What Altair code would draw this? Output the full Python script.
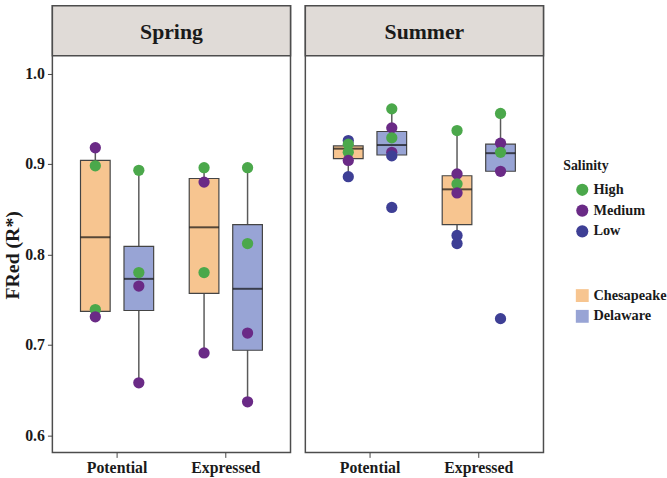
import altair as alt
import pandas as pd

# Categories
seasons = ["Spring", "Summer"]
periods = ["Potential", "Expressed"]
regions = ["Chesapeake", "Delaware"]
salinity_levels = ["High", "Medium", "Low"]

# Box summaries, one per season / period / region
box_season = ["Spring"] * 4 + ["Summer"] * 4
box_period = ["Potential", "Potential", "Expressed", "Expressed"] * 2
box_region = ["Chesapeake", "Delaware"] * 4
whisker_low = [0.731, 0.658, 0.691, 0.637, 0.886, 0.909, 0.812, 0.892]
box_q1 = [0.737, 0.738, 0.757, 0.694, 0.906, 0.910, 0.833, 0.892]
box_median = [0.819, 0.773, 0.830, 0.762, 0.917, 0.921, 0.872, 0.912]
box_q3 = [0.904, 0.809, 0.884, 0.833, 0.920, 0.936, 0.887, 0.922]
whisker_high = [0.918, 0.893, 0.896, 0.896, 0.926, 0.961, 0.937, 0.956]

# Individual site observations
pt_season = (["Spring"] * 16) + (["Summer"] * 22)
pt_period = (["Potential"] * 8 + ["Expressed"] * 8
             + ["Potential"] * 11 + ["Expressed"] * 11)
pt_region = (["Chesapeake"] * 4 + ["Delaware"] * 4
             + ["Chesapeake"] * 4 + ["Delaware"] * 4
             + ["Chesapeake"] * 5 + ["Delaware"] * 6
             + ["Chesapeake"] * 6 + ["Delaware"] * 5)
pt_salinity = (["Medium", "High", "High", "Medium"]
               + ["High", "High", "Medium", "Medium"]
               + ["High", "Medium", "High", "Medium"]
               + ["High", "High", "Medium", "Medium"]
               + ["Low", "High", "High", "Medium", "Low"]
               + ["High", "Medium", "High", "Medium", "Low", "Low"]
               + ["High", "Medium", "High", "Medium", "Low", "Low"]
               + ["High", "Medium", "High", "Medium", "Low"])
pt_value = ([0.918, 0.898, 0.739, 0.731]
            + [0.893, 0.780, 0.765, 0.658]
            + [0.896, 0.880, 0.780, 0.691]
            + [0.896, 0.812, 0.713, 0.637]
            + [0.926, 0.922, 0.913, 0.904, 0.886]
            + [0.961, 0.940, 0.929, 0.913, 0.909, 0.852]
            + [0.937, 0.889, 0.878, 0.868, 0.821, 0.812]
            + [0.956, 0.923, 0.913, 0.892, 0.729])

region_colors = ["#F7C590", "#98A4D5"]
salinity_colors = ["#4BA84B", "#6A2A86", "#3E3F95"]
y_ticks = [0.6, 0.7, 0.8, 0.9, 1.0]

boxes = pd.DataFrame({
    "Season": box_season, "Period": box_period, "Region": box_region,
    "lo": whisker_low, "q1": box_q1, "median": box_median,
    "q3": box_q3, "hi": whisker_high,
})
points = pd.DataFrame({
    "Season": pt_season, "Period": pt_period, "Region": pt_region,
    "Salinity": pt_salinity, "FRed": pt_value,
})
strips = pd.DataFrame({"Season": seasons})

FONT = "Liberation Serif"
PANEL_W = 241
PANEL_H = 452
STRIP_H = 50.5
LEGEND_X = 517

x_scale = alt.Scale(domain=periods, paddingInner=0.2, paddingOuter=0.195)
off_scale = alt.Scale(domain=regions, paddingInner=0.318, paddingOuter=0.159)
y_scale = alt.Scale(domain=[0.5810, 1.0750], nice=False, zero=False)


def panel(season, show_y):
    if show_y:
        y_axis = alt.Axis(values=y_ticks, format=".1f", title="FRed (R*)",
                          grid=False, domain=False, tickSize=5,
                          tickColor="#444", labelPadding=3,
                          titleY=252, titlePadding=2)
    else:
        y_axis = None
    x_axis = alt.Axis(title=None, domain=False, grid=False, labelAngle=0,
                      tickSize=5, tickColor="#444", labelPadding=2)

    x_enc = alt.X("Period:N", scale=x_scale, axis=x_axis, sort=periods)
    off_enc = alt.XOffset("Region:N", scale=off_scale, sort=regions)

    box_base = alt.Chart(boxes).transform_filter(alt.datum.Season == season)

    whisker = box_base.mark_rule(color="#5a5a5a", strokeWidth=1.5).encode(
        x=x_enc, xOffset=off_enc,
        y=alt.Y("lo:Q", scale=y_scale, axis=y_axis),
        y2="hi:Q",
    )
    box = box_base.mark_bar(stroke="#444444", strokeWidth=1.2).encode(
        x=x_enc, xOffset=off_enc,
        y=alt.Y("q1:Q", scale=y_scale),
        y2="q3:Q",
        fill=alt.Fill("Region:N",
                      scale=alt.Scale(domain=regions, range=region_colors),
                      legend=alt.Legend(title=None, symbolType="square",
                                        symbolStrokeWidth=0, symbolSize=170,
                                        symbolOffset=12,
                                        orient="none", legendX=LEGEND_X,
                                        legendY=286)),
    )
    med = box_base.mark_tick(color="#111111", thickness=2, size=30).encode(
        x=x_enc, xOffset=off_enc,
        y=alt.Y("median:Q", scale=y_scale),
    )
    pts = alt.Chart(points).transform_filter(
        alt.datum.Season == season
    ).mark_circle(size=130, opacity=1).encode(
        x=x_enc, xOffset=off_enc,
        y=alt.Y("FRed:Q", scale=y_scale),
        color=alt.Color("Salinity:N",
                        scale=alt.Scale(domain=salinity_levels,
                                        range=salinity_colors),
                        legend=alt.Legend(title="Salinity", symbolType="circle",
                                          symbolSize=150, symbolOffset=12,
                                          orient="none",
                                          legendX=LEGEND_X,
                                          legendY=155)),
    )

    strip_base = alt.Chart(strips).transform_filter(alt.datum.Season == season)
    strip_rect = strip_base.mark_rect(
        fill="#E0DBD7", stroke="#4d4d4d", strokeWidth=1.5
    ).encode(
        x=alt.value(0), x2=alt.value(PANEL_W),
        y=alt.value(0), y2=alt.value(STRIP_H),
    )
    strip_text = strip_base.mark_text(
        font=FONT, fontSize=22, fontWeight="bold", color="#1a1a1a",
        baseline="middle", align="center",
    ).encode(
        x=alt.value(PANEL_W / 2), y=alt.value(STRIP_H / 2 + 1),
        text="Season:N",
    )

    return alt.layer(
        strip_rect, strip_text, whisker, box, med, pts
    ).properties(width=PANEL_W, height=PANEL_H)


chart = alt.hconcat(
    panel("Spring", True), panel("Summer", False), spacing=11
).resolve_scale(
    color="shared", fill="shared"
).properties(
    padding={"left": 2, "top": 1, "right": 0, "bottom": 0},
    background="white",
).configure_view(
    stroke="#4d4d4d", strokeWidth=1.5
).configure_axis(
    labelFont=FONT, labelFontSize=16, labelFontWeight="bold",
    labelColor="#1a1a1a", titleFont=FONT, titleFontSize=20,
    titleFontWeight="bold", titleColor="#1a1a1a",
).configure_axisX(
    labelFontSize=16,
).configure_legend(
    labelFont=FONT, labelFontSize=14.5, labelFontWeight="bold",
    labelColor="#1a1a1a", titleFont=FONT, titleFontSize=14,
    titleFontWeight="bold", titleColor="#1a1a1a", rowPadding=6,
    titlePadding=10, labelOffset=4,
)

chart.save("out.html", embed_options={"renderer": "svg", "actions": False})
